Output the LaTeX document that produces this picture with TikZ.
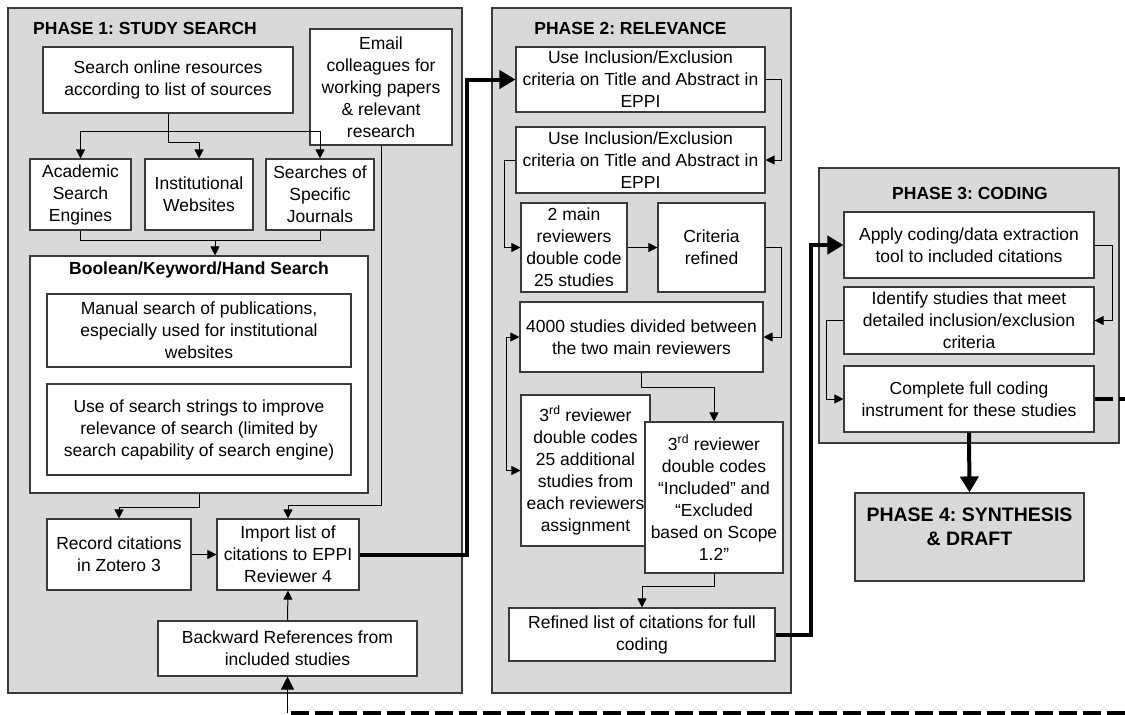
\documentclass[tikz,border=0pt]{standalone}
\usepackage{fontspec}
\setmainfont{Liberation Sans}
\usetikzlibrary{arrows.meta,calc}
\definecolor{panelgray}{HTML}{D9D9D9}
\definecolor{boxedge}{HTML}{3A3A3A}
\frenchspacing
\begin{document}
\begin{tikzpicture}[x=1pt,y=-1pt,
 panel/.style={draw=boxedge, fill=panelgray, line width=1.2pt, inner sep=0pt},
 box/.style={draw=boxedge, fill=white, line width=1.1pt, inner sep=0pt, align=center, font=\fontsize{17.5}{22}\selectfont},
 ttl/.style={inner sep=0pt, font=\fontsize{17.5}{22}\selectfont\bfseries},
 arr/.style={draw=black, line width=1pt, -{Triangle[length=9pt,width=9pt]}},
 conn/.style={draw=black, line width=1pt},
 bigarr/.style={draw=black, line width=4pt, -{Triangle[length=16pt,width=18pt]}},
 dashline/.style={draw=black, line width=3.5pt, dash pattern=on 18pt off 6pt}]
\useasboundingbox (0,0) rectangle (1125,715);
% panels
\node[panel, minimum width=454pt, minimum height=685pt] (p1) at (235,350.5) {};
\node[panel, minimum width=299pt, minimum height=685pt] (p2) at (641.5,350.5) {};
\node[panel, minimum width=300pt, minimum height=275pt] (p3) at (969,305.5) {};
\node[ttl, anchor=west] (t1) at (33,28) {PHASE 1: STUDY SEARCH};
\node[ttl] (t2) at (630.5,28) {PHASE 2: RELEVANCE};
\node[ttl] (t3) at (970,193) {PHASE 3: CODING};
% phase 1 boxes
\node[box, minimum width=250pt, minimum height=66pt] (search) at (168,80) {Search online resources\\according to list of sources};
\node[box, minimum width=142pt, minimum height=116pt] (email) at (381,87) {Email\\colleagues for\\working papers\\\& relevant\\research};
\node[box, minimum width=101pt, minimum height=71pt] (acad) at (80.5,194.5) {Academic\\Search\\Engines};
\node[box, minimum width=108pt, minimum height=71pt] (inst) at (199,194.5) {Institutional\\Websites};
\node[box, minimum width=108pt, minimum height=71pt] (jour) at (320,194.5) {Searches of\\Specific\\Journals};
\node[box, minimum width=338pt, minimum height=237pt] (bool) at (199,374.5) {};
\node[ttl] (boolt) at (199,270) {Boolean/Keyword/Hand Search};
\node[box, minimum width=304pt, minimum height=73pt] (manual) at (199,330.5) {Manual search of publications,\\especially used for institutional\\websites};
\node[box, minimum width=304pt, minimum height=91pt] (strings) at (199,429.5) {Use of search strings to improve\\relevance of search (limited by\\search capability of search engine)};
\node[box, minimum width=144pt, minimum height=71pt] (record) at (119,554.5) {Record citations\\in Zotero 3};
\node[box, minimum width=142pt, minimum height=71pt] (import) at (288,554.5) {Import list of\\citations to EPPI\\Reviewer 4};
\node[box, minimum width=259pt, minimum height=55pt] (back) at (287.5,648.5) {Backward References from\\included studies};
% phase 2 boxes
\node[box, minimum width=249pt, minimum height=65pt] (incl1) at (640.5,79.5) {Use Inclusion/Exclusion\\criteria on Title and Abstract in\\EPPI};
\node[box, minimum width=249pt, minimum height=66pt] (incl2) at (640.5,160) {Use Inclusion/Exclusion\\criteria on Title and Abstract in\\EPPI};
\node[box, minimum width=106pt, minimum height=89pt] (main2) at (574,247.5) {2 main\\reviewers\\double code\\25 studies};
\node[box, minimum width=107pt, minimum height=89pt] (crit) at (711.5,247.5) {Criteria\\refined};
\node[box, minimum width=243pt, minimum height=70pt] (div) at (641.5,337) {4000 studies divided between\\the two main reviewers};
\node[box, minimum width=129pt, minimum height=151pt] (rev1) at (585.5,470.5) {3\textsuperscript{rd} reviewer\\double codes\\25 additional\\studies from\\each reviewers\\assignment};
\node[box, minimum width=138pt, minimum height=151pt] (rev2) at (714,497.5) {3\textsuperscript{rd} reviewer\\double codes\\“Included” and\\“Excluded\\based on Scope\\1.2”};
\node[box, minimum width=266pt, minimum height=53pt] (refined) at (642,634.5) {Refined list of citations for full\\coding};
% phase 3 boxes
\node[box, minimum width=250pt, minimum height=66pt] (apply) at (969,245) {Apply coding/data extraction\\tool to included citations};
\node[box, minimum width=250pt, minimum height=67pt] (ident) at (969,320.5) {Identify studies that meet\\detailed inclusion/exclusion\\criteria};
\node[box, minimum width=250pt, minimum height=66pt] (compl) at (969,399) {Complete full coding\\instrument for these studies};
% phase 4
\node[box, fill=panelgray, minimum width=229pt, minimum height=88pt] (p4) at (969.5,537) {};
\node[inner sep=0pt, align=center, font=\fontsize{19.5}{24}\selectfont\bfseries] (p4t) at (969.5,527) {PHASE 4: SYNTHESIS\\\& DRAFT};
% phase 1 connectors
\coordinate (br) at ($(search.south)+(0,18)$);
\draw[arr] (search.south) -- ++(0,29) -| (inst.north);
\draw[arr] (br) -| (acad.north);
\draw[arr] (br) -| (jour.north);
\draw[conn] (acad.south) -- ++(0,10) -| (jour.south);
\coordinate (jn) at (215,240);
\draw[arr] (jn) -- (jn |- bool.north);
\draw[arr] (email.south) -- ++(0,360) -| (import.north);
\draw[arr] (bool.south) -- ++(0,14) -| (record.north);
\draw[arr] (record.east) -- (import.west);
\draw[arr] (back.north) -- (import.south);
\draw[bigarr] (import.east) -- ++(107,0) |- (incl1.west);
% phase 2 connectors
\draw[arr] (incl1.east) -- ++(16,0) |- (incl2.east);
\draw[arr] (incl2.west) -- ++(-11,0) |- (main2.west);
\draw[arr] (main2.east) -- (crit.west);
\draw[arr] (crit.east) -- ++(16,0) |- (div.east);
\draw[arr, {Triangle[length=9pt,width=9pt]}-{Triangle[length=9pt,width=9pt]}] (div.west) -- ++(-13,0) |- (rev1.west);
\draw[arr] (div.south) -- ++(0,15) -| (rev2.north);
\draw[arr] (rev2.south) -- ++(0,13) -| (refined.north);
\draw[bigarr] (refined.east) -- ++(35,0) |- (apply.west);
% phase 3 connectors
\draw[arr] (apply.east) -- ++(18,0) |- (ident.east);
\draw[arr] (ident.west) -- ++(-17,0) |- (compl.west);
\draw[bigarr] (compl.south) -- (p4.north);
% feedback loop
\coordinate (dr) at (1145,713);
\coordinate (dl) at (back.south |- dr);
\draw[dashline] (compl.east) -| (dr) -- (dl);
\draw[arr, -{Triangle[length=13pt,width=13pt]}] (dl) -- (back.south);
\end{tikzpicture}
\end{document}
